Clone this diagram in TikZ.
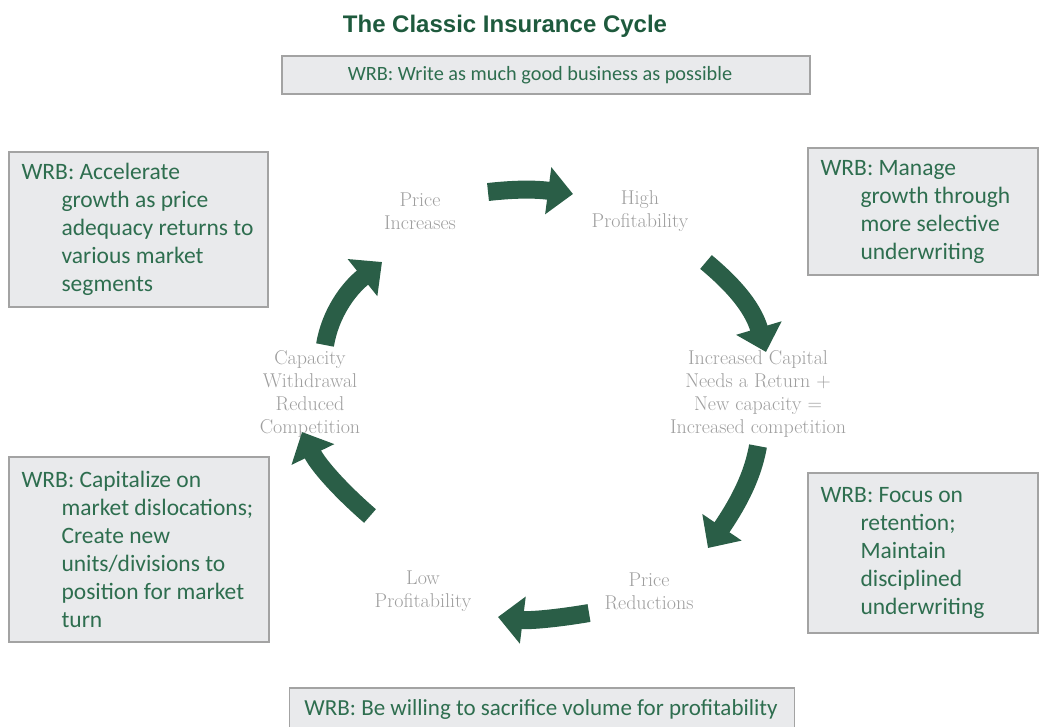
\documentclass[tikz,border=0pt]{standalone}
\usepackage{fontspec}
\newfontfamily\boxfont{Carlito}
\newfontfamily\titlefont{Liberation Sans}
\usetikzlibrary{arrows.meta}
\definecolor{titlegreen}{HTML}{1E5A3D}
\definecolor{boxgreen}{HTML}{2E6E4F}
\definecolor{boxfill}{HTML}{E9EAEC}
\definecolor{boxline}{HTML}{A3A3A3}
\definecolor{arrowgreen}{HTML}{2A5E47}
\definecolor{stagegray}{HTML}{9E9E9E}
\newcommand{\ind}{\hspace*{40pt}}
\begin{document}
\begin{tikzpicture}[x=1pt,y=-1pt,
  wrbbox/.style={draw=boxline, line width=1.3pt, fill=boxfill, inner sep=0pt},
  wrbtext/.style={text=boxgreen, font=\boxfont\fontsize{23.5}{28}\selectfont,
    inner sep=0pt, align=left, anchor=west, xshift=13pt},
  wrbline/.style={text=boxgreen, font=\boxfont\fontsize{20.3}{24}\selectfont, inner sep=0pt},
  stage/.style={text=stagegray, font=\fontsize{20}{23}\selectfont, align=center},
  cyclearrow/.style={draw=arrowgreen, line width=18pt, line cap=butt,
    -{Triangle[length=25pt,width=46pt]}}
]
\useasboundingbox (0,0) rectangle (1040,727);

% title
\node[text=titlegreen, font=\titlefont\bfseries\fontsize{24}{28}\selectfont] (title) at (505,26) {The Classic Insurance Cycle};

% one-line strategy boxes, top and bottom
\node[wrbbox, minimum width=528pt, minimum height=38pt] (top) at (546,75) {};
\node[wrbline] (toptext) at (540,75) {WRB: Write as much good business as possible};
\node[wrbbox, minimum width=505pt, minimum height=44pt] (bottom) at (542,710) {};
\node[wrbline, font=\boxfont\fontsize{23}{27}\selectfont] (bottomtext) at (541,709) {WRB: Be willing to sacrifice volume for profitability};

% strategy boxes at the four corners
\node[wrbbox, minimum width=259pt, minimum height=155pt] (tl) at (138.5,229.5) {};
\node[wrbtext] (tltext) at (tl.west)
  {WRB: Accelerate\\\ind growth as price\\\ind adequacy returns to\\\ind various market\\\ind segments};
\node[wrbbox, minimum width=230pt, minimum height=127pt] (tr) at (923,211.5) {};
\node[wrbtext] (trtext) at (tr.west)
  {WRB: Manage\\\ind growth through\\\ind more selective\\\ind underwriting};
\node[wrbbox, minimum width=260pt, minimum height=185pt] (bl) at (139,549.5) {};
\node[wrbtext] (bltext) at (bl.west)
  {WRB: Capitalize on\\\ind market dislocations;\\\ind Create new\\\ind units/divisions to\\\ind position for market\\\ind turn};
\node[wrbbox, minimum width=230pt, minimum height=160pt] (br) at (923,553) {};
\node[wrbtext] (brtext) at (br.west)
  {WRB: Focus on\\\ind retention;\\\ind Maintain\\\ind disciplined\\\ind underwriting};

% stages of the cycle
\node[stage] (pinc) at (420,211) {Price\\Increases};
\node[stage] (hprof) at (640,211) {High\\Profitability};
\node[stage] (incap) at (758,394) {Increased Capital\\Needs a Return +\\New capacity =\\Increased competition};
\node[stage] (pred) at (649,591) {Price\\Reductions};
\node[stage] (lprof) at (423,591) {Low\\Profitability};
\node[stage] (capw) at (310,394) {Capacity\\Withdrawal\\Reduced\\Competition};

% arrows between the stages
\coordinate (a1s) at (488,192); \coordinate (a1e) at (573,194);
\coordinate (a2s) at (706,262); \coordinate (a2e) at (766,352);
\coordinate (a3s) at (758,446); \coordinate (a3e) at (708,548);
\coordinate (a4s) at (589,613); \coordinate (a4e) at (498,617);
\coordinate (a5s) at (370,516); \coordinate (a5e) at (302,432);
\coordinate (a6s) at (325,345); \coordinate (a6e) at (382,262);

\draw[cyclearrow] (a1s) .. controls (515,189) and (535,189) .. (a1e);
\draw[cyclearrow] (a2s) .. controls (730,282) and (752,305) .. (a2e);
\draw[cyclearrow] (a3s) .. controls (752,480) and (735,508) .. (a3e);
\draw[cyclearrow] (a4s) .. controls (560,618) and (530,621) .. (a4e);
\draw[cyclearrow] (a5s) .. controls (340,490) and (318,465) .. (a5e);
\draw[cyclearrow] (a6s) .. controls (330,315) and (347,290) .. (a6e);
\end{tikzpicture}
\end{document}
